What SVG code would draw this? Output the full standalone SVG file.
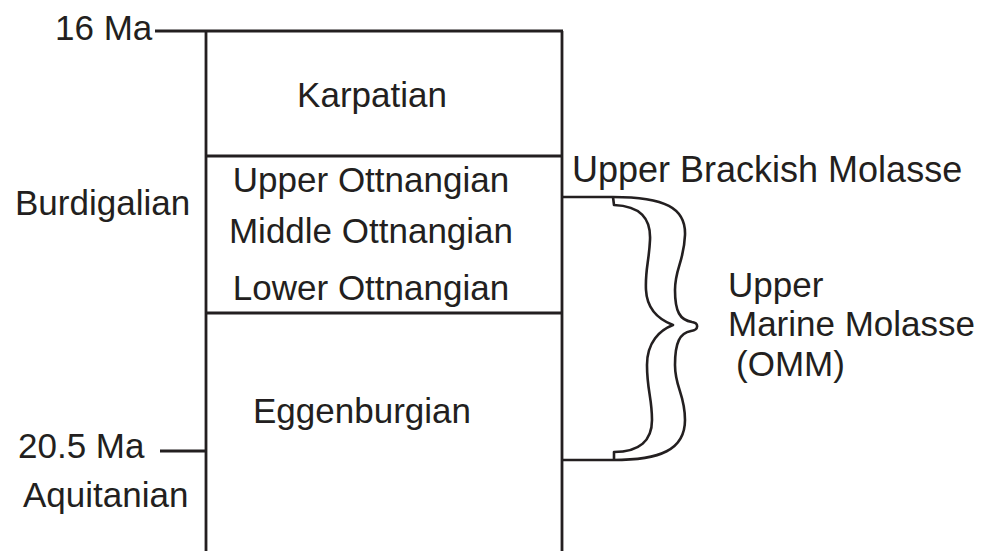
<svg xmlns="http://www.w3.org/2000/svg" width="989" height="551" viewBox="0 0 989 551">
<style>
.t{font-family:"Liberation Sans",Arial,sans-serif;font-size:35px;fill:#231f20}
.c{text-anchor:middle}
.ln{stroke:#231f20;stroke-width:2.8;fill:none}
.br{stroke:#231f20;stroke-width:2.6;fill:none;stroke-linejoin:round}
</style>
<rect width="989" height="551" fill="#ffffff"/>
<g id="column" class="ln">
<line x1="206" y1="31" x2="206" y2="551"/>
<line x1="562" y1="31" x2="562" y2="551"/>
<line x1="155" y1="31" x2="563" y2="31"/>
<line x1="206" y1="156" x2="562" y2="156"/>
<line x1="206" y1="313" x2="562" y2="313"/>
<line x1="160" y1="451" x2="206" y2="451"/>
</g>
<g id="karpatian"><text class="t c" x="372" y="107">Karpatian</text></g>
<g id="ottnangian">
<text class="t c" x="371" y="192">Upper Ottnangian</text>
<text class="t c" x="371" y="243">Middle Ottnangian</text>
<text class="t c" x="371" y="300">Lower Ottnangian</text>
</g>
<g id="eggenburgian"><text class="t" x="253" y="423">Eggenburgian</text></g>
<g id="ages">
<text class="t" x="55" y="40">16 Ma</text>
<text class="t" x="15" y="215">Burdigalian</text>
<text class="t" x="18" y="458">20.5 Ma</text>
<text class="t" x="23" y="507">Aquitanian</text>
</g>
<g id="brackish"><text class="t" x="572" y="182" style="font-size:36px">Upper Brackish Molasse</text></g>
<g id="connectors">
<path class="br" d="M562,197 L613,197 C665,197 686,208 685,235 C684,262 675,268 675,290 C675,312 680,320 692,322 C699,323 699,330 691,331 C680,333 675,342 675,365 C675,388 685,394 685,420 C685,450 660,460 613,460 L562,460"/>
<path class="br" d="M613,197 L614,205 C640,206 651,218 650,240 C649,262 645,270 646,290 C647,310 660,320 673,325 C660,330 647,342 647,365 C647,390 652,398 652,420 C652,440 640,452 614,452 L614,460"/>
</g>
<g id="omm">
<text class="t" x="728" y="297">Upper</text>
<text class="t" x="728" y="336">Marine Molasse</text>
<text class="t" x="736" y="376">(OMM)</text>
</g>
</svg>
